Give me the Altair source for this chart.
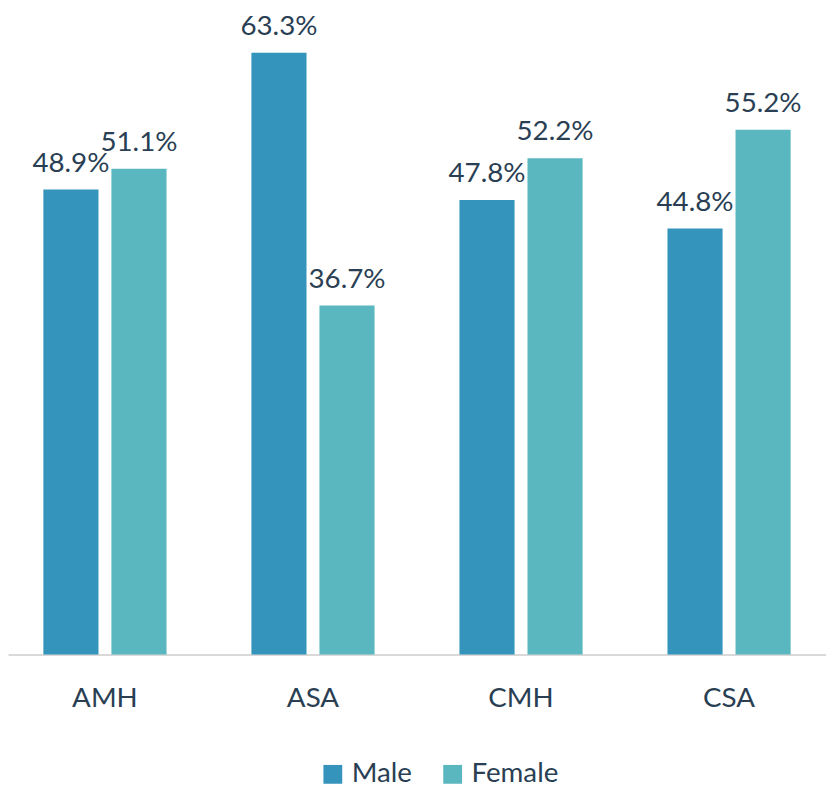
import altair as alt
import pandas as pd

categories = ["AMH", "ASA", "CMH", "CSA"]
series = ["Male", "Female"]
male = [48.9, 63.3, 47.8, 44.8]
female = [51.1, 36.7, 52.2, 55.2]
colors = ["#3594BB", "#5AB7BF"]

rows = []
for i, c in enumerate(categories):
    rows.append({"category": c, "gender": "Male", "value": male[i]})
    rows.append({"category": c, "gender": "Female", "value": female[i]})
df = pd.DataFrame(rows)

FONT = "Lato"
TEXT = "#2a3f54"

x = alt.X(
    "category:N",
    sort=categories,
    scale=alt.Scale(paddingInner=0.408, paddingOuter=0.17),
    axis=alt.Axis(
        title=None, labelAngle=0, ticks=False, grid=False,
        domainColor="#d9d9d9", domainWidth=2,
        labelFontSize=28, labelFont=FONT, labelColor=TEXT, labelPadding=30,
    ),
)
xo = alt.XOffset("gender:N", sort=series, scale=alt.Scale(paddingInner=0.19, paddingOuter=0))
y = alt.Y("value:Q", scale=alt.Scale(domain=[0, 67.6], nice=False, zero=True), axis=None)
color = alt.Color(
    "gender:N",
    sort=series,
    scale=alt.Scale(domain=series, range=colors),
    legend=alt.Legend(
        title=None, orient="none", legendX=314, legendY=756, direction="horizontal",
        symbolType="square", symbolSize=361, symbolStrokeWidth=0,
        labelFontSize=28, labelFont=FONT, labelColor=TEXT,
        columnPadding=27, labelOffset=5, padding=0,
    ),
)

base = alt.Chart(df)
bars = base.mark_bar().encode(x=x, xOffset=xo, y=y, color=color)
labels = base.transform_calculate(
    label="format(datum.value, '.1f') + '%'"
).mark_text(
    baseline="alphabetic", dy=-18, fontSize=28, font=FONT, color=TEXT
).encode(x=x, xOffset=xo, y=y, text="label:N")

chart = alt.layer(bars, labels).properties(
    width=826,
    height=649,
    autosize=alt.AutoSizeParams(type="none"),
    padding={"left": 0, "top": 0, "right": 0, "bottom": 136},
).configure_view(stroke=None)

chart.save("out.html", embed_options={"renderer": "svg", "actions": False})
